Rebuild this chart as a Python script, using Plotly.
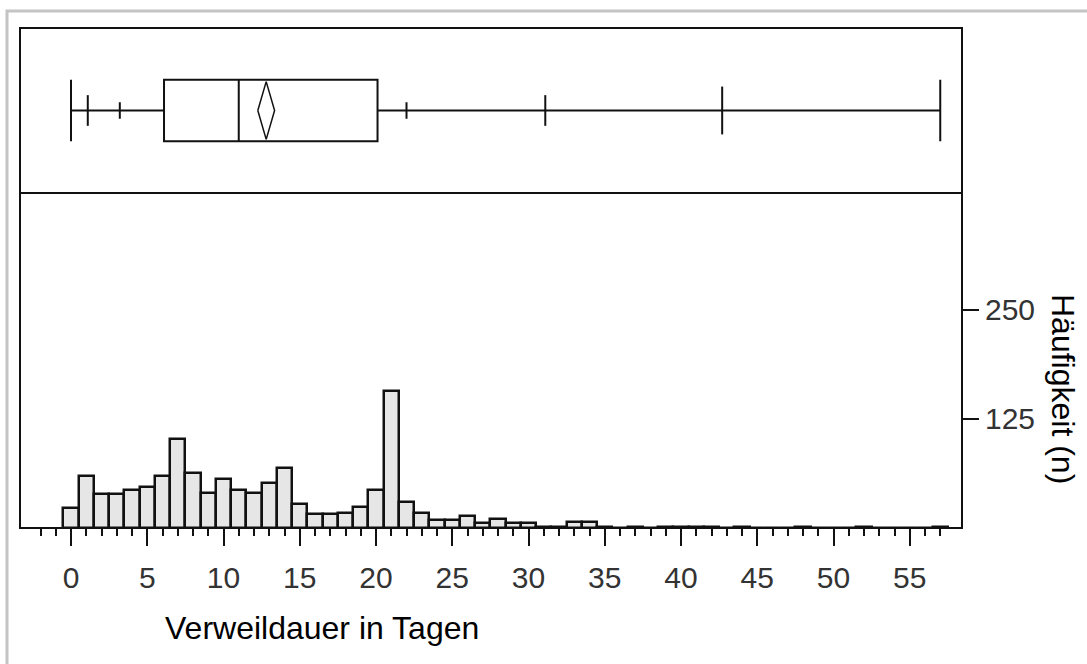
import plotly.graph_objects as go

# ---- data ----
days = list(range(0, 58))
counts = [23, 59, 39, 39, 43, 47, 59, 102, 63, 40,
          56, 43, 40, 52, 69, 27, 16, 16, 17, 24,
          43, 157, 30, 17, 9, 9, 14, 6, 10, 6,
          6, 1, 1, 7, 7, 1, 0, 1, 0, 1,
          1, 1, 1, 0, 1, 0, 0, 0, 1, 0,
          0, 0, 1, 0, 0, 0, 0, 1]

box_min = 0
box_q1 = 6.1
box_median = 11.0
box_q3 = 20.1
box_max = 57.0
mean_value = 12.8
mean_ci = 0.55

pct_levels = [5, 10, 90, 95, 99]
pct_values = [1.1, 3.2, 22.0, 31.1, 42.7]

x_ticks = list(range(0, 60, 5))
y_ticks = [125, 250]

x_title = "Verweildauer in Tagen"
y_title = "Häufigkeit (n)"

# ---- styles ----
W, H = 1087, 664
L, R, T, B = 20, 962, 28, 528
split_px = 193
hist_top = (B - split_px) / (B - T)
box_half = 0.187
pct_half = {5: 0.093, 10: 0.05, 90: 0.05, 95: 0.093, 99: 0.145}
tick_font = dict(family="Liberation Sans, Arial, sans-serif", size=30, color="#333333")
title_font = dict(family="Liberation Sans, Arial, sans-serif", size=32, color="black")
line_c = "#111111"

fig = go.Figure()

fig.add_trace(go.Bar(
    x=days, y=counts, width=1,
    marker=dict(color="#e6e6e6", line=dict(color=line_c, width=2.5)),
    xaxis="x", yaxis="y", showlegend=False))

fig.add_trace(go.Box(
    q1=[box_q1], median=[box_median], q3=[box_q3],
    lowerfence=[box_min], upperfence=[box_max],
    y=[0.5], orientation="h", width=2 * box_half, whiskerwidth=1,
    fillcolor="white", line=dict(color=line_c, width=2),
    xaxis="x", yaxis="y2", showlegend=False, boxpoints=False))

# percentile ticks
px_, py_ = [], []
for lvl, v in zip(pct_levels, pct_values):
    h = pct_half[lvl]
    px_ += [v, v, None]
    py_ += [0.5 - h, 0.5 + h, None]
fig.add_trace(go.Scatter(x=px_, y=py_, mode="lines",
                         line=dict(color=line_c, width=2),
                         xaxis="x", yaxis="y2", showlegend=False))

# mean diamond
dh = 0.175
fig.add_trace(go.Scatter(
    x=[mean_value - mean_ci, mean_value, mean_value + mean_ci, mean_value, mean_value - mean_ci],
    y=[0.5, 0.5 + dh, 0.5, 0.5 - dh, 0.5],
    mode="lines", line=dict(color=line_c, width=1.5),
    xaxis="x", yaxis="y2", showlegend=False))

xr0 = (L - 71) / 15.25
xr1 = (R - 71) / 15.25
y_per_px = 1 / 0.8735

fig.update_layout(
    width=W, height=H,
    margin=dict(l=L, r=W - R, t=T, b=H - B),
    paper_bgcolor="white", plot_bgcolor="white",
    bargap=0,
    xaxis=dict(range=[xr0, xr1], tickvals=x_ticks, ticks="outside", ticklen=17,
               tickwidth=2, tickcolor=line_c, showgrid=False, zeroline=False,
               showline=False, tickfont=tick_font, anchor="y",
               ticklabelstandoff=6,
               minor=dict(tickmode="array", tickvals=list(range(-2, 58)),
                          ticks="outside", ticklen=7, tickwidth=2,
                          tickcolor=line_c, showgrid=False)),
    yaxis=dict(domain=[0, hist_top], range=[0, (B - split_px) * y_per_px],
               side="right", tickvals=y_ticks, ticks="outside", ticklen=16,
               tickwidth=2, tickcolor=line_c, showgrid=False, zeroline=False,
               showline=False, tickfont=tick_font, anchor="x"),
    yaxis2=dict(domain=[hist_top, 1], range=[0, 1], visible=False, anchor="x"),
)

fig.add_shape(type="rect", xref="paper", yref="paper", x0=0, y0=0, x1=1, y1=1,
              line=dict(color=line_c, width=2), layer="above")
fig.add_shape(type="line", xref="paper", yref="paper", x0=0, x1=1,
              y0=hist_top, y1=hist_top, line=dict(color=line_c, width=2), layer="above")
# outer gray frame
pw, ph = R - L, B - T
fig.add_shape(type="rect", xref="paper", yref="paper",
              x0=(7 - L) / pw, x1=(W + 20 - L) / pw,
              y0=-(H + 20 - B) / ph, y1=1 + (T - 11) / ph,
              line=dict(color="#c4c4c4", width=3), layer="below")

fig.add_annotation(text=x_title, xref="paper", yref="paper",
                   x=(322 - L) / pw, y=-(628 - B) / ph, showarrow=False,
                   xanchor="center", yanchor="middle", font=title_font)
fig.add_annotation(text=y_title, xref="paper", yref="paper",
                   x=(1063 - L) / pw, y=(B - 389) / ph, showarrow=False,
                   xanchor="center", yanchor="middle", textangle=90, font=title_font)

fig.write_html("out.html")
